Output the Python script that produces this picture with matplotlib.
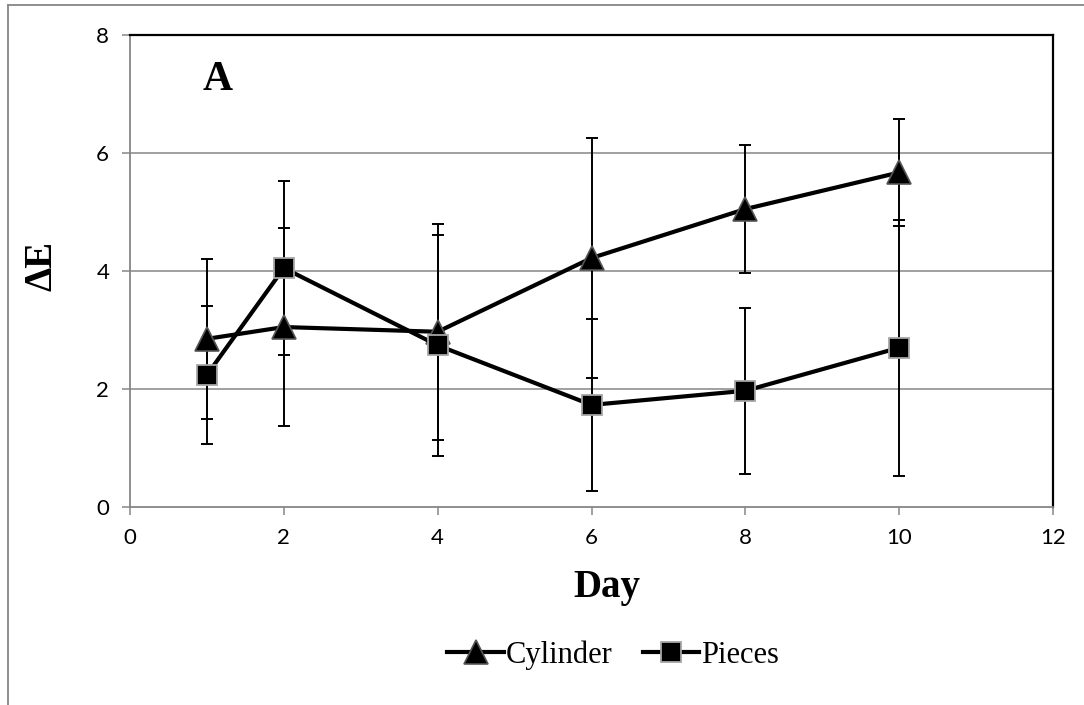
import matplotlib.pyplot as plt
from matplotlib.lines import Line2D

days = [1, 2, 4, 6, 8, 10]
cylinder = [2.85, 3.05, 2.97, 4.22, 5.05, 5.67]
cylinder_err = [1.35, 1.68, 1.83, 2.04, 1.08, 0.91]
pieces = [2.24, 4.05, 2.74, 1.73, 1.97, 2.70]
pieces_err = [1.17, 1.47, 1.87, 1.46, 1.41, 2.17]

serif = ['Liberation Serif', 'DejaVu Serif']
grey = '#868686'

fig = plt.figure(figsize=(10.84, 7.05), dpi=100)
ax = fig.add_axes([130/1084, 1 - 507/705, (1053-130)/1084, (507-35)/705])

# error bars first, lines/markers on top
ax.errorbar(days, cylinder, yerr=cylinder_err, fmt='none', ecolor='black',
            elinewidth=1.4, capsize=4.2, capthick=1.4, zorder=3)
ax.errorbar(days, pieces, yerr=pieces_err, fmt='none', ecolor='black',
            elinewidth=1.4, capsize=4.2, capthick=1.4, zorder=3)
ax.plot(days, cylinder, color='black', linewidth=3, marker='^', ms=17,
        mfc='black', mec='#555555', mew=1.2, label='Cylinder', zorder=4)
ax.plot(days, pieces, color='black', linewidth=3, marker='s', ms=15,
        mfc='black', mec='#a6a6a6', mew=1.3, label='Pieces', zorder=5)

ax.set_xlim(0, 12)
ax.set_ylim(0, 8)
ax.set_xticks(range(0, 13, 2))
ax.set_yticks(range(0, 9, 2))
for y in [2, 4, 6]:
    ax.axhline(y, color=grey, linewidth=1.1, zorder=1)

ax.spines['left'].set_color(grey)
ax.spines['bottom'].set_color(grey)
ax.spines['left'].set_linewidth(1.3)
ax.spines['bottom'].set_linewidth(1.3)
ax.spines['top'].set_linewidth(1.6)
ax.spines['right'].set_linewidth(1.6)
ax.tick_params(axis='both', direction='out', length=6, width=1.1, color=grey,
               labelsize=16, pad=9)
for lab in ax.get_xticklabels() + ax.get_yticklabels():
    lab.set_fontfamily(['Lato', 'DejaVu Sans'])

ax.text(1.14, 7.24, 'A', fontsize=30, fontweight='bold', family=serif,
        ha='center', va='center')

fig.text(607/1084, 1 - 588/705, 'Day', fontsize=28, fontweight='bold',
         family=serif, ha='center', va='center')
fig.text(42/1084, 1 - 266/705, 'ΔE', fontsize=28, fontweight='bold',
         family=serif, ha='center', va='center', rotation=90)

leg = fig.legend(loc='center', bbox_to_anchor=(613/1084, 1 - 655/705), ncol=2,
                 frameon=False, handlelength=1.85, columnspacing=1.0,
                 handletextpad=0.05, prop={'family': serif, 'size': 22})

# outer chart-area border (partly visible)
fig.add_artist(Line2D([8/1084, 8/1084], [1 - 5/705, 0], color=grey, linewidth=1.3))
fig.add_artist(Line2D([8/1084, 1], [1 - 5/705, 1 - 5/705], color=grey, linewidth=1.3))

fig.savefig('out.png', dpi=100)
